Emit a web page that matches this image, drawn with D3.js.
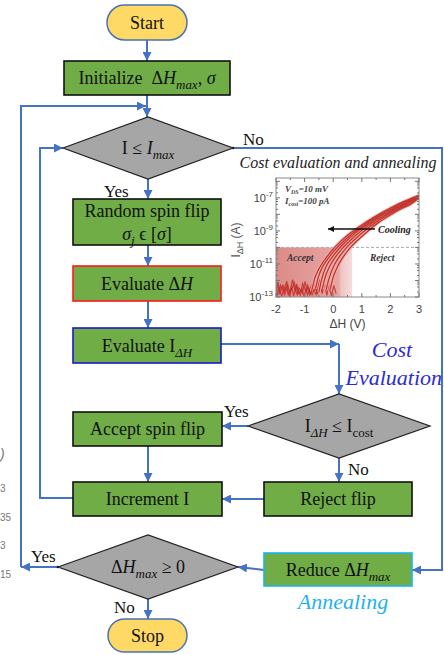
<!DOCTYPE html>
<html>
<head>
<meta charset="utf-8">
<script src="https://cdn.jsdelivr.net/npm/d3@7"></script>
<style>
  body { margin: 0; background: #fff; }
  svg { display: block; }
</style>
</head>
<body>
<div id="container"></div>
<script>
/**
 * CONSTANTS AND GLOBALS
 * */
const width = 444, height = 655;
const serifFont = `"Liberation Serif"`;
const sansFont = `"Liberation Sans"`;

/**
 * FLOWCHART TEXT
 * segments: [text, style]  i = italic, s = subscript
 * */
const nodeIds = ["start", "init", "d1", "spin", "evalH", "evalI", "d2", "accept", "incr", "reject", "reduce", "d3", "stop"];
const nodeKinds = ["term", "box", "dia", "box", "box", "box", "dia", "box", "box", "box", "box", "dia", "term"];
const nodeLabels = [
  [[["Start"]]],
  [[["Initialize\u00a0 Δ"], ["H", "i"], ["max", "is"], [", "], ["σ", "i"]]],
  [[["I ≤ "], ["I", "i"], ["max", "is"]]],
  [[["Random spin flip"]], [["σ", "i"], ["j", "is"], [" ϵ ["], ["σ", "i"], ["]"]]],
  [[["Evaluate Δ"], ["H", "i"]]],
  [[["Evaluate I"], ["ΔH", "is"]]],
  [[["I"], ["ΔH", "is"], [" ≤ I"], ["cost", "s"]]],
  [[["Accept spin flip"]]],
  [[["Increment I"]]],
  [[["Reject flip"]]],
  [[["Reduce Δ"], ["H", "i"], ["max", "is"]]],
  [[["Δ"], ["H", "i"], ["max", "is"], [" ≥ 0"]]],
  [[["Stop"]]]
];
const branchLabels = ["No", "Yes", "Yes", "No", "Yes", "No"];
const sideNotes = ["Cost", "Evaluation", "Annealing"];
const cutText = [")", "3", "35", "3", "15"];

/**
 * INSET CHART DATA  (ΔH in V, current as log10 A)
 * */
const insetTitle = "Cost evaluation and annealing";
const xTicks = [-2, -1, 0, 1, 2, 3];
const yTickExps = [-13, -11, -9, -7];
const yDomainExp = [-13, -5.8];
const costExp = -10;
const acceptEdge = 0.66;
const curves = [
  [[-0.75,-12.6],[-0.65,-11.9],[-0.5,-11.3],[-0.3,-10.75],[-0.05,-10.2],[0.25,-9.65],[0.55,-9.2],[0.95,-8.7],[1.45,-8.15],[2.0,-7.62],[2.5,-7.2],[3.0,-6.85]],
  [[-0.62,-12.5],[-0.52,-11.8],[-0.38,-11.2],[-0.18,-10.68],[0.08,-10.12],[0.38,-9.6],[0.68,-9.15],[1.08,-8.65],[1.55,-8.14],[2.08,-7.63],[2.55,-7.23],[3.0,-6.87]],
  [[-0.5,-12.7],[-0.4,-11.9],[-0.26,-11.2],[-0.05,-10.63],[0.2,-10.08],[0.5,-9.55],[0.8,-9.1],[1.2,-8.6],[1.66,-8.1],[2.15,-7.64],[2.6,-7.26],[3.0,-6.9]],
  [[-0.38,-12.5],[-0.28,-11.8],[-0.14,-11.2],[0.07,-10.6],[0.34,-10.02],[0.64,-9.5],[0.94,-9.05],[1.32,-8.56],[1.76,-8.1],[2.22,-7.65],[2.64,-7.3],[3.0,-6.93]],
  [[-0.25,-12.6],[-0.15,-11.9],[0.0,-11.2],[0.2,-10.6],[0.48,-9.98],[0.78,-9.47],[1.08,-9.02],[1.45,-8.53],[1.87,-8.07],[2.3,-7.65],[2.68,-7.33],[3.0,-6.96]],
  [[-0.1,-12.5],[0.0,-11.8],[0.14,-11.2],[0.34,-10.6],[0.62,-9.97],[0.92,-9.46],[1.22,-9.0],[1.58,-8.5],[1.98,-8.05],[2.38,-7.66],[2.72,-7.37],[3.0,-7.0]]
];
const noise = [
  [[-2.0,-12.7],[-1.93,-12.1],[-1.87,-12.8],[-1.76,-12.25],[-1.7,-12.9],[-1.6,-12.2],[-1.52,-12.75],[-1.42,-11.95],[-1.33,-12.65],[-1.27,-12.35],[-1.15,-12.9],[-1.07,-12.2],[-0.95,-12.7],[-0.87,-12.4],[-0.78,-12.9],[-0.7,-12.1]],
  [[-1.97,-12.95],[-1.9,-12.4],[-1.8,-12.95],[-1.72,-12.5],[-1.62,-12.05],[-1.57,-12.9],[-1.45,-12.4],[-1.38,-12.95],[-1.28,-12.2],[-1.22,-12.8],[-1.1,-12.5],[-1.02,-12.95],[-0.9,-12.3],[-0.82,-12.85],[-0.72,-12.45],[-0.62,-12.6]],
  [[-1.9,-12.85],[-1.84,-12.3],[-1.72,-12.7],[-1.66,-12.45],[-1.52,-12.95],[-1.47,-12.6],[-1.36,-12.15],[-1.26,-12.9],[-1.2,-12.45],[-1.08,-12.75],[-0.98,-12.05],[-0.9,-12.9],[-0.76,-12.3],[-0.6,-12.85],[-0.52,-12.15],[-0.4,-12.7]],
  [[-0.72,-12.9],[-0.66,-12.15],[-0.55,-12.85],[-0.48,-11.95],[-0.38,-12.8],[-0.32,-12.1],[-0.22,-12.9],[-0.16,-12.2],[-0.06,-12.95],[0.02,-12.3],[0.1,-12.8]]
];

/**
 * LAYOUT  (flowchart geometry, kept apart from the data)
 * */
const layout = {
  start:  { x: 107, y: 5,   w: 80,  h: 35 },
  init:   { x: 64,  y: 61,  w: 166, h: 34 },
  d1:     { cx: 148, cy: 148, hw: 85, hh: 31 },
  spin:   { x: 73,  y: 199, w: 148, h: 46 },
  evalH:  { x: 73,  y: 266, w: 148, h: 35 },
  evalI:  { x: 73,  y: 328, w: 148, h: 35 },
  d2:     { cx: 339, cy: 426, hw: 91, hh: 32 },
  accept: { x: 73,  y: 412, w: 149, h: 34 },
  incr:   { x: 73,  y: 482, w: 149, h: 34 },
  reject: { x: 264, y: 482, w: 148, h: 34 },
  reduce: { x: 264, y: 553, w: 148, h: 33 },
  d3:     { cx: 148, cy: 567, hw: 90, hh: 32 },
  stop:   { x: 108, y: 619, w: 79,  h: 33 }
};
const strokes = { evalH: "#ff1a1a", evalI: "#1a1acc", reduce: "#19b6ee" };
const blue = "#4472C4";

let svg;

init();

function init() {
  svg = d3.select("#container")
    .append("svg")
    .attr("width", width)
    .attr("height", height);

  const defs = svg.append("defs");
  defs.append("marker")
    .attr("id", "arr")
    .attr("viewBox", "0 0 10 10")
    .attr("refX", 10).attr("refY", 5)
    .attr("markerWidth", 9).attr("markerHeight", 9)
    .attr("markerUnits", "userSpaceOnUse")
    .attr("orient", "auto")
    .append("path").attr("d", "M0,0 L10,5 L0,10 z").attr("fill", blue);
  defs.append("marker")
    .attr("id", "arrK")
    .attr("viewBox", "0 0 10 10")
    .attr("refX", 10).attr("refY", 5)
    .attr("markerWidth", 6).attr("markerHeight", 6)
    .attr("markerUnits", "userSpaceOnUse")
    .attr("orient", "auto")
    .append("path").attr("d", "M0,0 L10,5 L0,10 z").attr("fill", "#111");

  drawInset(defs);
  drawConnectors();
  drawNodes();
  drawNotes();
}

function addLabel(g, lines, cx, cy, size) {
  const lh = size * 1.25;
  lines.forEach((segs, li) => {
    const t = g.append("text")
      .attr("x", cx)
      .attr("y", cy + (li - (lines.length - 1) / 2) * lh)
      .attr("dy", "0.35em")
      .attr("text-anchor", "middle")
      .attr("fill", "#111")
      .style("font-family", serifFont)
      .style("font-size", size + "px");
    let shifted = 0;
    segs.forEach(([txt, st = ""]) => {
      const sub = st.includes("s");
      const ts = t.append("tspan").text(txt);
      if (st.includes("i")) ts.style("font-style", "italic");
      const want = sub ? size * 0.28 : 0;
      if (want !== shifted) { ts.attr("dy", want - shifted); shifted = want; }
      if (sub) ts.style("font-size", (size * 0.72) + "px");
    });
  });
}

function drawNodes() {
  const g = svg.append("g");
  nodeIds.forEach((id, i) => {
    const L = layout[id];
    const kind = nodeKinds[i];
    let cx, cy;
    if (kind === "dia") {
      cx = L.cx; cy = L.cy;
      g.append("path")
        .attr("d", `M${cx - L.hw},${cy} L${cx},${cy - L.hh} L${cx + L.hw},${cy} L${cx},${cy + L.hh} Z`)
        .attr("fill", "#a6a6a6")
        .attr("stroke", "#222")
        .attr("stroke-width", 1.2);
    } else {
      cx = L.x + L.w / 2; cy = L.y + L.h / 2;
      g.append("rect")
        .attr("x", L.x).attr("y", L.y)
        .attr("width", L.w).attr("height", L.h)
        .attr("rx", kind === "term" ? L.h / 2 : 0)
        .attr("fill", kind === "term" ? "#ffd966" : "#70ad47")
        .attr("stroke", kind === "term" ? "#4a72b0" : (strokes[id] || "#111"))
        .attr("stroke-width", kind === "term" ? 1.5 : 1.6);
    }
    addLabel(g, nodeLabels[i], cx, cy, 18);
  });
}

function drawConnectors() {
  const g = svg.append("g")
    .attr("fill", "none")
    .attr("stroke", blue)
    .attr("stroke-width", 2);
  const L = layout;
  const bottom = id => L[id].y + L[id].h;
  const mid = id => L[id].y + L[id].h / 2;
  const paths = [
    [[147, bottom("start")], [147, L.init.y]],
    [[147, bottom("init")], [147, L.d1.cy - L.d1.hh]],
    [[21, L.d3.cy], [21, 106], [146, 106]],
    [[L.d3.cx - L.d3.hw, L.d3.cy], [21, L.d3.cy]],
    [[L.incr.x, 498], [40, 498], [40, L.d1.cy], [L.d1.cx - L.d1.hw, L.d1.cy]],
    [[148, L.d1.cy + L.d1.hh], [148, L.spin.y]],
    [[148, bottom("spin")], [148, L.evalH.y]],
    [[148, bottom("evalH")], [148, L.evalI.y]],
    [[L.evalI.x + L.evalI.w, 344], [L.d2.cx, 344]],
    [[L.d2.cx, 344], [L.d2.cx, L.d2.cy - L.d2.hh]],
    [[L.d2.cx - L.d2.hw, L.d2.cy], [L.accept.x + L.accept.w, L.d2.cy]],
    [[L.d2.cx, L.d2.cy + L.d2.hh], [L.d2.cx, L.reject.y]],
    [[148, bottom("accept")], [148, L.incr.y]],
    [[L.reject.x, mid("reject")], [L.incr.x + L.incr.w, mid("incr")]],
    [[L.d1.cx + L.d1.hw, L.d1.cy], [442, L.d1.cy], [442, 570], [L.reduce.x + L.reduce.w, 570]],
    [[L.reduce.x, 570], [L.d3.cx + L.d3.hw, L.d3.cy]],
    [[148, L.d3.cy + L.d3.hh], [148, L.stop.y]]
  ];
  g.selectAll("path")
    .data(paths)
    .join("path")
    .attr("d", d => d3.line()(d))
    .attr("marker-end", "url(#arr)");

  svg.append("circle").attr("cx", 58).attr("cy", L.d3.cy).attr("r", 1.2).attr("fill", "#111");
  svg.append("circle").attr("cx", 233).attr("cy", L.d1.cy).attr("r", 1.2).attr("fill", "#111");
}

function drawNotes() {
  const pos = [[243, 145], [104, 197], [224, 417], [348, 475], [31, 562], [114, 613]];
  svg.append("g")
    .selectAll("text")
    .data(branchLabels)
    .join("text")
    .attr("x", (d, i) => pos[i][0])
    .attr("y", (d, i) => pos[i][1])
    .attr("fill", "#111")
    .style("font-family", serifFont)
    .style("font-size", "17px")
    .text(d => d);

  const notePos = [[392, 357, "middle", "#2b2bd6"], [442, 385, "end", "#2b2bd6"], [343, 609, "middle", "#1fb2ef"]];
  svg.append("g")
    .selectAll("text")
    .data(sideNotes)
    .join("text")
    .attr("x", (d, i) => notePos[i][0])
    .attr("y", (d, i) => notePos[i][1])
    .attr("text-anchor", (d, i) => notePos[i][2])
    .attr("fill", (d, i) => notePos[i][3])
    .style("font-family", serifFont)
    .style("font-style", "italic")
    .style("font-size", "22px")
    .text(d => d);

  // fragments of text cut at the left edge of the picture
  const cutY = [459, 492, 521, 549, 578];
  svg.append("g")
    .selectAll("text")
    .data(cutText)
    .join("text")
    .attr("x", 0)
    .attr("y", (d, i) => cutY[i])
    .attr("fill", "#777")
    .style("font-family", sansFont)
    .style("font-style", (d, i) => i === 0 ? "italic" : "normal")
    .style("font-size", (d, i) => i === 0 ? "14px" : "10px")
    .text(d => d);
}

function drawInset(defs) {
  const x = d3.scaleLinear().domain([-2, 3]).range([276, 419]);
  const y = d3.scaleLinear().domain(yDomainExp).range([297, 178]);
  const g = svg.append("g");

  g.append("text")
    .attr("x", 338).attr("y", 168)
    .attr("text-anchor", "middle")
    .attr("fill", "#222")
    .style("font-family", serifFont)
    .style("font-style", "italic")
    .style("font-size", "16px")
    .text(insetTitle);

  defs.append("clipPath").attr("id", "plotClip")
    .append("rect")
    .attr("x", x(-2)).attr("y", y(yDomainExp[1]))
    .attr("width", x(3) - x(-2)).attr("height", y(-13) - y(yDomainExp[1]));

  const grad = defs.append("linearGradient").attr("id", "shade");
  grad.append("stop").attr("offset", "0").attr("stop-color", "#dd8b88");
  grad.append("stop").attr("offset", "0.82").attr("stop-color", "#e6a6a3");
  grad.append("stop").attr("offset", "0.86").attr("stop-color", "#efc6c4");
  grad.append("stop").attr("offset", "1").attr("stop-color", "#f5dcdb");

  const plot = g.append("g").attr("clip-path", "url(#plotClip)");
  plot.append("rect")
    .attr("x", x(-2)).attr("y", y(costExp))
    .attr("width", x(acceptEdge) - x(-2))
    .attr("height", y(-13) - y(costExp))
    .attr("fill", "url(#shade)");

  plot.append("line")
    .attr("x1", x(-2)).attr("x2", x(3))
    .attr("y1", y(costExp)).attr("y2", y(costExp))
    .attr("stroke", "#aaa")
    .attr("stroke-dasharray", "3,2");

  const line = d3.line().x(d => x(d[0])).y(d => y(d[1])).curve(d3.curveMonotoneX);
  const jag = d3.line().x(d => x(d[0])).y(d => y(d[1]));

  plot.selectAll(".noise")
    .data(noise)
    .join("path")
    .attr("class", "noise")
    .attr("d", jag)
    .attr("fill", "none")
    .attr("stroke", "#c0302a")
    .attr("stroke-opacity", 0.8)
    .attr("stroke-width", 1.3);

  plot.selectAll(".curveLight")
    .data(curves)
    .join("path")
    .attr("class", "curveLight")
    .attr("d", line)
    .attr("fill", "none")
    .attr("stroke", "#f1b2ad")
    .attr("stroke-width", 3);
  plot.selectAll(".curve")
    .data(curves)
    .join("path")
    .attr("class", "curve")
    .attr("d", line)
    .attr("fill", "none")
    .attr("stroke", "#c2332c")
    .attr("stroke-width", 1.3);

  g.append("rect")
    .attr("x", x(-2)).attr("y", y(yDomainExp[1]))
    .attr("width", x(3) - x(-2)).attr("height", y(-13) - y(yDomainExp[1]))
    .attr("fill", "none").attr("stroke", "#888").attr("stroke-width", 1);

  // ticks on all four sides
  const yMajor = d3.range(-13, -5);
  const yMinor = [];
  yMajor.forEach(e => [2, 4, 6, 8].forEach(m => {
    const v = e + Math.log10(m);
    if (v < yDomainExp[1]) yMinor.push(v);
  }));
  const tk = g.append("g").attr("stroke", "#777").attr("stroke-width", 1);
  [[x(-2), 1], [x(3), -1]].forEach(([x0, dir]) => {
    tk.selectAll(null).data(yMajor).join("line")
      .attr("x1", x0).attr("x2", x0 + dir * 4)
      .attr("y1", d => y(d)).attr("y2", d => y(d));
    tk.selectAll(null).data(yMinor).join("line")
      .attr("x1", x0).attr("x2", x0 + dir * 2)
      .attr("y1", d => y(d)).attr("y2", d => y(d));
  });
  const xMinor = d3.range(-1.5, 3, 1);
  [[y(-13), -1], [y(yDomainExp[1]), 1]].forEach(([y0, dir]) => {
    tk.selectAll(null).data(xTicks).join("line")
      .attr("x1", d => x(d)).attr("x2", d => x(d))
      .attr("y1", y0).attr("y2", y0 + dir * 4);
    tk.selectAll(null).data(xMinor).join("line")
      .attr("x1", d => x(d)).attr("x2", d => x(d))
      .attr("y1", y0).attr("y2", y0 + dir * 2);
  });

  const yl = g.append("g")
    .attr("fill", "#444")
    .style("font-family", sansFont)
    .style("font-size", "11px");
  yTickExps.forEach(e => {
    const t = yl.append("text")
      .attr("x", x(-2) - 3).attr("y", y(e) + 4)
      .attr("text-anchor", "end");
    t.append("tspan").text("10");
    t.append("tspan").attr("dy", -5).style("font-size", "8px").text(String(e));
  });
  g.append("g")
    .attr("fill", "#444")
    .style("font-family", sansFont)
    .style("font-size", "11px")
    .selectAll("text")
    .data(xTicks)
    .join("text")
    .attr("x", d => x(d)).attr("y", 313)
    .attr("text-anchor", "middle")
    .text(d => d);
  g.append("text")
    .attr("x", x(0.5)).attr("y", 328)
    .attr("text-anchor", "middle")
    .attr("fill", "#444")
    .style("font-family", sansFont)
    .style("font-size", "12px")
    .text("ΔH (V)");
  const ylab = g.append("text")
    .attr("transform", "translate(240,240) rotate(-90)")
    .attr("text-anchor", "middle")
    .attr("fill", "#555")
    .style("font-family", sansFont)
    .style("font-size", "12px");
  ylab.append("tspan").text("I");
  ylab.append("tspan").attr("dy", 3).style("font-size", "9px").text("ΔH");
  ylab.append("tspan").attr("dy", -3).text(" (A)");

  const ann = g.append("g")
    .attr("fill", "#444")
    .style("font-family", serifFont)
    .style("font-style", "italic")
    .style("font-weight", "bold");
  const v = ann.append("text").attr("x", 285).attr("y", 192).style("font-size", "9px");
  v.append("tspan").text("V");
  v.append("tspan").attr("dy", 2).style("font-size", "6px").text("DS");
  v.append("tspan").attr("dy", -2).text("=10 mV");
  const c = ann.append("text").attr("x", 285).attr("y", 204).style("font-size", "9px");
  c.append("tspan").text("I");
  c.append("tspan").attr("dy", 2).style("font-size", "6px").text("cost");
  c.append("tspan").attr("dy", -2).text("=100 pA");
  ann.append("text").attr("x", 378).attr("y", 233).attr("fill", "#222").style("font-size", "10px").text("Cooling");
  ann.append("text").attr("x", 287).attr("y", 261).attr("fill", "#333").style("font-size", "9.5px").text("Accept");
  ann.append("text").attr("x", 370).attr("y", 261).attr("fill", "#333").style("font-size", "9.5px").text("Reject");
  g.append("line")
    .attr("x1", 375).attr("x2", 328)
    .attr("y1", 229).attr("y2", 229)
    .attr("stroke", "#111").attr("stroke-width", 1.3)
    .attr("marker-end", "url(#arrK)");
}
</script>
</body>
</html>
